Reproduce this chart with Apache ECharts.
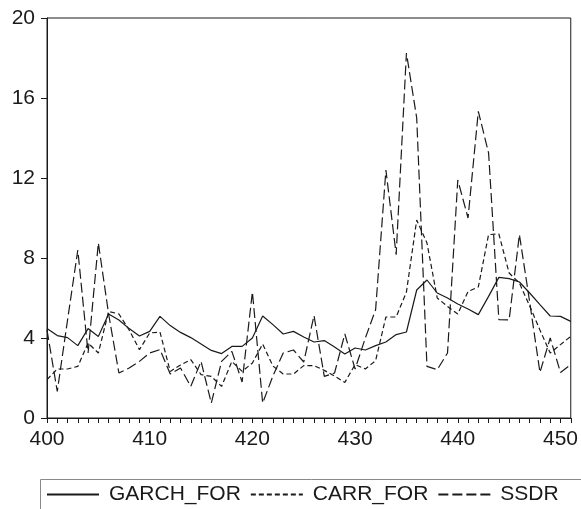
<!DOCTYPE html>
<html>
<head>
<meta charset="utf-8">
<script src="https://cdn.jsdelivr.net/npm/echarts@6/dist/echarts.min.js"></script>
<style>
html,body{margin:0;padding:0;background:#fff;}
#chart{width:581px;height:509px;}
</style>
</head>
<body>
<div id="chart"></div>
<script>
var periods = [400,401,402,403,404,405,406,407,408,409,410,411,412,413,414,415,416,417,418,419,420,421,422,423,424,425,426,427,428,429,430,431,432,433,434,435,436,437,438,439,440,441,442,443,444,445,446,447,448,449,450,451];

var garchFor = [4.47,4.12,4.02,3.62,4.47,4.08,5.2,4.9,4.47,4.1,4.33,5.08,4.62,4.28,4.02,3.7,3.38,3.22,3.58,3.58,4.0,5.1,4.67,4.2,4.33,4.05,3.8,3.87,3.55,3.2,3.5,3.4,3.62,3.8,4.17,4.3,6.4,6.9,6.25,6.0,5.7,5.45,5.17,6.08,7.03,6.97,6.8,6.25,5.67,5.1,5.08,4.83];

var carrFor = [1.92,2.45,2.45,2.58,3.75,3.25,5.33,5.2,4.4,3.42,4.25,4.3,2.33,2.65,2.92,2.17,2.08,1.58,2.83,2.33,2.75,3.7,2.6,2.2,2.2,2.62,2.62,2.38,2.1,1.78,2.67,2.45,2.87,5.05,5.05,6.3,9.9,8.75,6.0,5.58,5.2,6.33,6.55,9.17,9.2,7.25,6.75,5.6,4.4,3.25,3.67,4.08];

var ssdr = [4.4,1.33,4.9,8.4,3.25,8.75,5.2,2.25,2.5,2.83,3.25,3.42,2.2,2.5,1.58,2.83,0.75,2.83,3.33,1.8,6.3,0.75,2.1,3.25,3.4,2.8,5.12,2.08,2.25,4.2,2.45,4.0,5.42,12.4,8.17,18.25,15.0,2.58,2.42,3.25,11.9,10.0,15.33,13.25,4.92,4.9,9.17,5.8,2.28,4.0,2.28,2.67];

var yTicks = [0,4,8,12,16,20];

var FONT = 'Liberation Sans, Arial, sans-serif';
var INK = '#1a1a1a';

var chart = echarts.init(document.getElementById('chart'), null, {renderer:'canvas'});
chart.setOption({
  animation: false,
  backgroundColor: '#ffffff',
  graphic: [{
    type: 'rect', left: 38, top: 477, silent: true,
    shape: {width: 600, height: 60},
    style: {fill: 'none', stroke: '#8a8a8a', lineWidth: 1}
  }],
  grid: {
    left: 47, right: 6, top: 18, bottom: 91,
    show: true, borderColor: INK, borderWidth: 1, backgroundColor: 'transparent'
  },
  legend: {
    show: true,
    data: ['GARCH_FOR','CARR_FOR','SSDR'],
    left: 46, top: 484,
    orient: 'horizontal',
    itemWidth: 52, itemHeight: 14, itemGap: 9,
    padding: 0,
    itemStyle: {opacity: 0},
    textStyle: {fontFamily: FONT, fontSize: 21, color: INK, padding: [0,0,0,5]}
  },
  xAxis: {
    type: 'category',
    data: periods,
    boundaryGap: false,
    axisLine: {show: true, lineStyle: {color: INK, width: 1}},
    axisTick: {show: true, interval: 0, length: 5, inside: false, lineStyle: {color: INK, width: 1}},
    axisLabel: {interval: 9, margin: 11, fontFamily: FONT, fontSize: 21, color: INK},
    splitLine: {show: false}
  },
  yAxis: {
    type: 'value',
    min: 0, max: 20, interval: 4,
    axisLine: {show: true, lineStyle: {color: INK, width: 1}},
    axisTick: {show: true, length: 6, lineStyle: {color: INK, width: 1}},
    axisLabel: {margin: 12, fontFamily: FONT, fontSize: 21, color: INK,
      formatter: function(v){ return yTicks.indexOf(v) >= 0 ? String(v) : ''; }},
    splitLine: {show: false}
  },
  series: [
    {name: 'GARCH_FOR', type: 'line', data: garchFor, showSymbol: false, symbol: 'none',
     lineStyle: {color: INK, width: 1.2, type: 'solid'}, itemStyle: {color: INK}},
    {name: 'CARR_FOR', type: 'line', data: carrFor, showSymbol: false, symbol: 'none',
     lineStyle: {color: INK, width: 1.2, type: [5,3]}, itemStyle: {color: INK}},
    {name: 'SSDR', type: 'line', data: ssdr, showSymbol: false, symbol: 'none',
     lineStyle: {color: INK, width: 1.2, type: [10,4]}, itemStyle: {color: INK}}
  ]
});
</script>
</body>
</html>
